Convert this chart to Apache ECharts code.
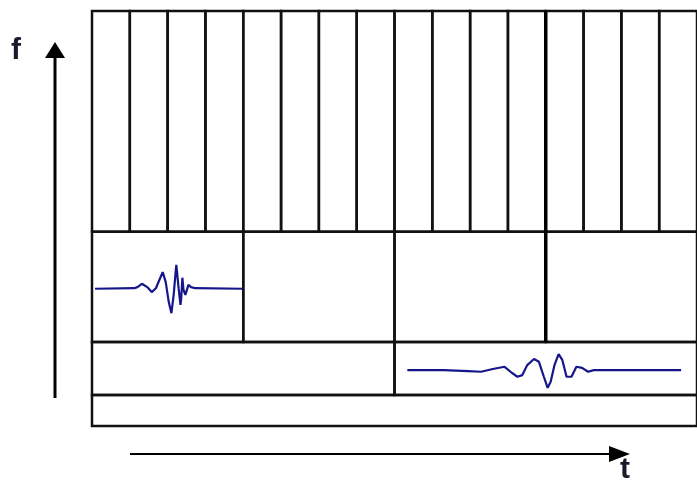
<!DOCTYPE html>
<html>
<head>
<meta charset="utf-8">
<script src="https://cdn.jsdelivr.net/npm/echarts@6/dist/echarts.min.js"></script>
<style>html,body{margin:0;padding:0;background:#fff;}#c{width:697px;height:481px;}</style>
</head>
<body>
<div id="c"></div>
<script>
// Frequency band edges (f units) and the time width of tiles in each band (t units)
var bandEdges = [0, 0.56, 1.52, 3.51, 7.5];
var bandTileWidths = [16, 8, 4, 1];
var tMax = 16;
var emphasisT = [12];

// Wavelet 1 (band 2, short / high-frequency)
var wave1T = [0.08, 1.12, 1.20, 1.32, 1.46, 1.58, 1.69, 1.77, 1.87, 1.95, 2.03, 2.10, 2.16, 2.21, 2.23, 2.29, 2.34, 2.36, 2.39, 2.42, 2.47, 2.55, 2.62, 2.73, 3.98];
var wave1F = [2.48, 2.49, 2.51, 2.57, 2.51, 2.42, 2.49, 2.62, 2.78, 2.60, 2.24, 2.04, 2.37, 2.77, 2.91, 2.49, 2.19, 2.31, 2.68, 2.46, 2.37, 2.55, 2.51, 2.49, 2.48];

// Wavelet 2 (band 3, long / low-frequency)
var wave2T = [8.34, 9.30, 9.95, 10.29, 10.60, 10.91, 11.07, 11.25, 11.38, 11.51, 11.69, 11.82, 11.95, 12.05, 12.13, 12.23, 12.34, 12.44, 12.55, 12.68, 12.81, 12.96, 13.12, 13.27, 15.58];
var wave2F = [1.01, 1.01, 0.99, 0.98, 1.03, 1.07, 0.98, 0.89, 0.92, 1.10, 1.21, 1.16, 0.89, 0.69, 0.80, 1.10, 1.30, 1.19, 0.89, 0.89, 1.07, 1.05, 0.98, 1.01, 1.01];

// Build tile list [t0, t1, f0, f1]
var tiles = [];
for (var b = 0; b < bandTileWidths.length; b++) {
  for (var t = 0; t < tMax; t += bandTileWidths[b]) {
    tiles.push([t, t + bandTileWidths[b], bandEdges[b], bandEdges[b + 1]]);
  }
}
function zip(a, b) { return a.map(function (v, i) { return [v, b[i]]; }); }

var chart = echarts.init(document.getElementById('c'), null, {renderer: 'canvas'});
var ink = '#111';
var waveColor = '#16168a';
chart.setOption({
  backgroundColor: '#fff',
  animation: false,
  grid: {left: 92, top: 11, width: 616, height: 415},
  xAxis: {type: 'value', min: 0, max: tMax, show: false},
  yAxis: {type: 'value', min: 0, max: 7.5, show: false},
  series: [
    {
      type: 'custom',
      data: tiles,
      encode: {x: [0, 1], y: [2, 3]},
      clip: false,
      renderItem: function (params, api) {
        var p0 = api.coord([api.value(0), api.value(3)]);
        var p1 = api.coord([api.value(1), api.value(2)]);
        return {
          type: 'rect',
          shape: {x: p0[0], y: p0[1], width: p1[0] - p0[0], height: p1[1] - p0[1]},
          style: {fill: 'none', stroke: ink, lineWidth: 2.5}
        };
      }
    },
    {
      type: 'custom',
      data: emphasisT.map(function (t) { return [t, bandEdges[2], bandEdges[4]]; }),
      encode: {x: 0, y: [1, 2]},
      renderItem: function (params, api) {
        var a = api.coord([api.value(0), api.value(1)]);
        var b = api.coord([api.value(0), api.value(2)]);
        return {type: 'line', shape: {x1: a[0], y1: a[1], x2: b[0], y2: b[1]}, style: {stroke: '#000', lineWidth: 3.5}};
      }
    },
    {
      type: 'line', data: zip(wave1T, wave1F), showSymbol: false, symbol: 'none',
      lineStyle: {color: waveColor, width: 2.2}, z: 5
    },
    {
      type: 'line', data: zip(wave2T, wave2F), showSymbol: false, symbol: 'none',
      lineStyle: {color: waveColor, width: 2.2}, z: 5
    }
  ],
  graphic: [
    {type: 'line', shape: {x1: 55, y1: 398, x2: 55, y2: 56}, style: {stroke: '#000', lineWidth: 3}},
    {type: 'polygon', shape: {points: [[55, 42], [45, 58], [65, 58]]}, style: {fill: '#000'}},
    {type: 'line', shape: {x1: 130, y1: 454, x2: 612, y2: 454}, style: {stroke: '#000', lineWidth: 2}},
    {type: 'polygon', shape: {points: [[630, 454], [609, 446], [609, 462]]}, style: {fill: '#000'}},
    {type: 'text', x: 11, y: 36, style: {text: 'f', fontSize: 30, fontWeight: 'bold', fontFamily: 'Liberation Sans, Arial, sans-serif', fill: '#1a1a2a', verticalAlign: 'top'}},
    {type: 'text', x: 620, y: 455, style: {text: 't', fontSize: 30, fontWeight: 'bold', fontFamily: 'Liberation Sans, Arial, sans-serif', fill: '#1a1a2a', verticalAlign: 'top'}}
  ]
});
</script>
</body>
</html>
